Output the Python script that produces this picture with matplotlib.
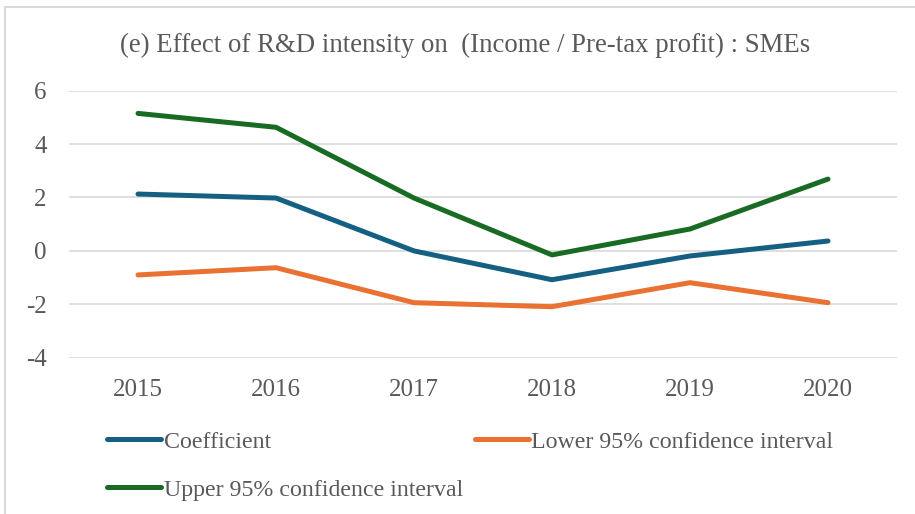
import matplotlib
matplotlib.use("Agg")
import matplotlib.pyplot as plt
from matplotlib.lines import Line2D

years = ["2015", "2016", "2017", "2018", "2019", "2020"]
coefficient = [2.13, 1.98, 0.0, -1.08, -0.19, 0.37]
lower_ci = [-0.90, -0.63, -1.94, -2.09, -1.19, -1.94]
upper_ci = [5.15, 4.63, 1.98, -0.15, 0.82, 2.69]
y_ticks = [-4, -2, 0, 2, 4, 6]

title = "(e) Effect of R&D intensity on  (Income / Pre-tax profit) : SMEs"
labels = ["Coefficient", "Lower 95% confidence interval", "Upper 95% confidence interval"]
colors = ["#156082", "#E97132", "#196B24"]
text_color = "#595959"

plt.rcParams['font.family'] = ['Liberation Serif', 'DejaVu Serif']

fig = plt.figure(figsize=(9.15, 5.14), dpi=100)
ax = fig.add_axes([69/915, 1-357.7/514, (897-69)/915, (357.7-90.7)/514])

x = list(range(len(years)))
lines = []
for vals, c, lab in zip([coefficient, lower_ci, upper_ci], colors, labels):
    ln, = ax.plot(x, vals, color=c, lw=3.6, solid_capstyle='round', solid_joinstyle='round', label=lab)
    lines.append(ln)

ax.set_xlim(-0.5, len(years) - 0.5)
ax.set_ylim(-4, 6)
ax.set_yticks(y_ticks)
ax.set_yticklabels([str(v) for v in y_ticks])
ax.set_xticks(x)
ax.set_xticklabels(years)
ax.grid(axis='y', color='#D9D9D9', lw=1.2)
ax.set_axisbelow(True)
for s in ['top', 'right', 'left', 'bottom']:
    ax.spines[s].set_visible(False)
ax.tick_params(axis='both', length=0, colors=text_color, labelsize=18)
ax.tick_params(axis='x', pad=15)
ax.tick_params(axis='y', pad=16)

fig.text(465/915, 1-45/514, title, ha='center', va='center', fontsize=19.3, color=text_color)

handles = [lines[0], lines[2], lines[1]]
leg = fig.legend(handles, [h.get_label() for h in handles], ncol=2, loc='upper left',
                 bbox_to_anchor=(107/915, 1-431/514), frameon=False, fontsize=17.2,
                 handlelength=2.25, handletextpad=0.12, columnspacing=0.5, labelspacing=1.1,
                 borderpad=0, borderaxespad=0, labelcolor=text_color)

# chart border
fig.add_artist(Line2D([5/915, 5/915], [0, 1-7/514], transform=fig.transFigure, color='#D9D9D9', lw=1.5))
fig.add_artist(Line2D([5/915, 1], [1-7/514, 1-7/514], transform=fig.transFigure, color='#D9D9D9', lw=1.5))

fig.savefig("out.png", dpi=100)
